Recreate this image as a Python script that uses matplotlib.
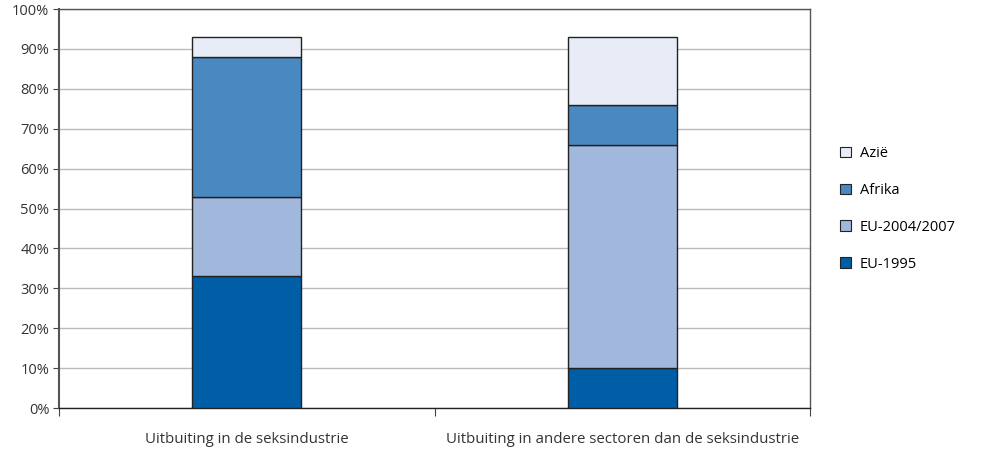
import numpy as np
import matplotlib.pyplot as plt
from matplotlib.patches import Patch

categories = ['Uitbuiting in de seksindustrie',
              'Uitbuiting in andere sectoren dan de seksindustrie']
series = ['EU-1995', 'EU-2004/2007', 'Afrika', 'Azië']
eu1995 = [33, 10]
eu2004 = [20, 56]
afrika = [35, 10]
azie = [5, 17]
colors = ['#005ea6', '#a1b7dc', '#4a88c1', '#e7ecf7']

plt.rcParams['font.family'] = ['Open Sans', 'DejaVu Sans']

fig = plt.figure(figsize=(9.89, 4.53), dpi=100)
ax = fig.add_axes([59 / 989, 45 / 453, 751 / 989, 399 / 453])

x = np.arange(len(categories))
bottom = np.zeros(len(categories))
handles = []
for vals, name, c in zip([eu1995, eu2004, afrika, azie], series, colors):
    ax.bar(x, vals, width=0.29, bottom=bottom, color=c, edgecolor='#222222',
           linewidth=1, zorder=3)
    bottom += np.array(vals)
    handles.append(Patch(facecolor=c, edgecolor='#222222', linewidth=0.8, label=name))

ax.set_xlim(-0.5, 1.5)
ax.set_ylim(0, 100)
ax.set_yticks(np.arange(0, 101, 10))
ax.set_yticklabels([f'{v}%' for v in range(0, 101, 10)], fontsize=10.5, color='#333333')
ax.set_xticks([-0.5, 0.5, 1.5])
ax.set_xticklabels([])
ax.set_xticks(x, minor=True)
ax.set_xticklabels(categories, minor=True, fontsize=10.8, color='#333333')
ax.tick_params(axis='x', which='minor', length=0, pad=17)
ax.tick_params(axis='x', which='major', length=6, color='#444444')
ax.tick_params(axis='y', length=4, color='#444444', pad=3)
ax.grid(axis='y', color='#bbbbbb', linewidth=1, zorder=0)
for s in ax.spines.values():
    s.set_color('#555555')
    s.set_linewidth(1)
ax.spines['left'].set_linewidth(1.5)
ax.spines['bottom'].set_color('#222222')

fig.legend(handles=handles[::-1], loc='upper left', bbox_to_anchor=(827 / 989, 1 - 133 / 453),
           frameon=False, fontsize=10.5, labelspacing=1.5, handlelength=0.75,
           handleheight=0.75, handletextpad=0.6)

fig.savefig('out.png', dpi=100)
